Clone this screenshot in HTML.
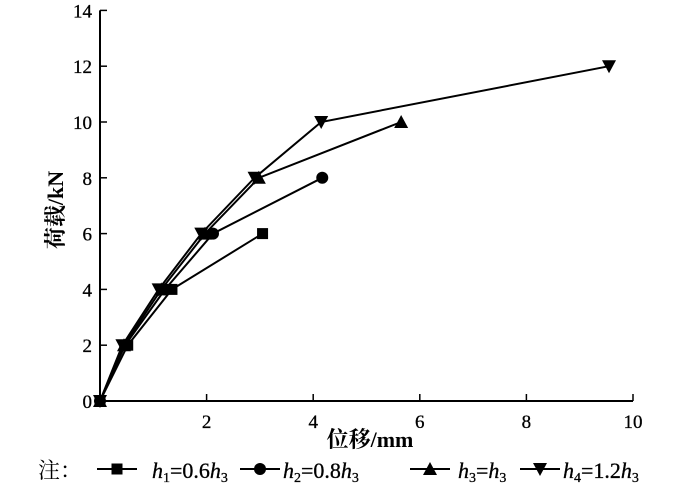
<!DOCTYPE html>
<html><head><meta charset="utf-8"><style>
body{margin:0;background:#fff;}
svg text{font-family:"Liberation Serif","Noto Serif CJK SC",serif;fill:#000;}
</style></head><body>
<svg id="chart" width="700" height="485" xmlns="http://www.w3.org/2000/svg"></svg>
<script>
const xTicks=[2,4,6,8,10];
const yTicks=[0,2,4,6,8,10,12,14];
const s1x=[0,0.52,1.35,3.05], s1y=[0,2,4,6];
const s2x=[0,0.47,1.22,2.12,4.17], s2y=[0,2,4,6,8];
const s3x=[0,0.45,1.15,1.97,2.98,5.65], s3y=[0,2,4,6,8,10];
const s4x=[0,0.42,1.1,1.9,2.9,4.15,9.55], s4y=[0,2,4,6,8,10,12];
const NS="http://www.w3.org/2000/svg";
const svg=document.getElementById('chart');
const X=v=>100+v*53.3, Y=v=>401-v*27.9;
function mk(t,a,txt){const e=document.createElementNS(NS,t);for(const k in a)e.setAttribute(k,a[k]);if(txt!=null)e.textContent=txt;svg.appendChild(e);return e;}
let e;
e=mk('line',{x1:100,y1:401,x2:X(10),y2:401,stroke:'#000','stroke-width':2});


e=mk('line',{x1:100,y1:401,x2:100,y2:Y(14),stroke:'#000','stroke-width':2});


xTicks.forEach(t=>{
 e=mk('line',{x1:X(t),y1:401,x2:X(t),y2:394,stroke:'#000','stroke-width':1.5});
 
 
 e=mk('text',{x:X(t),y:428,'text-anchor':'middle','font-size':19,'stroke':'#000','stroke-width':0.3},t);
 
 
});
yTicks.forEach(t=>{
 if(t>0){e=mk('line',{x1:100,y1:Y(t),x2:107,y2:Y(t),stroke:'#000','stroke-width':1.5});
 
 }
 e=mk('text',{x:92,y:Y(t)+7,'text-anchor':'end','font-size':19,'stroke':'#000','stroke-width':0.3},t);
 
 
});
e=mk('text',{x:370,y:447,'text-anchor':'middle','font-size':22,'font-weight':'bold'},'位移/mm');


e=mk('text',{x:0,y:0,'text-anchor':'middle','font-size':22,'font-weight':'bold',transform:'translate(63,210) rotate(-90)'},'荷载/kN');


function marker(kind,x,y){
 let m;
 if(kind==='sq')m=mk('rect',{x:x-5.5,y:y-5.5,width:11,height:11,fill:'#000'});
 else if(kind==='ci')m=mk('circle',{cx:x,cy:y,r:6,fill:'#000'});
 else if(kind==='up')m=mk('polygon',{points:`${x-7},${y+6} ${x+7},${y+6} ${x},${y-7}`,fill:'#000'});
 else m=mk('polygon',{points:`${x-7},${y-6} ${x+7},${y-6} ${x},${y+7}`,fill:'#000'});
 return m;
}
const series=[[s1x,s1y,'sq','series-h1'],[s2x,s2y,'ci','series-h2'],[s3x,s3y,'up','series-h3'],[s4x,s4y,'dn','series-h4']];
series.forEach(([xs,ys,k,n])=>{
 e=mk('polyline',{points:xs.map((v,i)=>X(v)+','+Y(ys[i])).join(' '),fill:'none',stroke:'#000','stroke-width':2});
 
 
 xs.forEach((v,i)=>{e=marker(k,X(v),Y(ys[i]));
 
 });
});
e=mk('text',{x:38,y:478,'font-size':22},'注：');


const leg=[[97,40,152,'h','1','=0.6','h','3'],[240,40,283,'h','2','=0.8','h','3'],[410,40,458,'h','3','=','h','3'],[520,40,563,'h','4','=1.2','h','3']];
leg.forEach(([x0,w,tx,a,b,c,d,f],i)=>{
 const k=['sq','ci','up','dn'][i];
 e=mk('line',{x1:x0,y1:469,x2:x0+w,y2:469,stroke:'#000','stroke-width':2});
 
 
 e=marker(k,x0+w/2,469);
 
 
 e=mk('text',{x:tx,y:478,'font-size':22,'stroke':'#000','stroke-width':0.3});
 e.innerHTML=`<tspan font-style="italic">${a}</tspan><tspan font-size="14" dy="4">${b}</tspan><tspan dy="-4">${c}</tspan><tspan font-style="italic">${d}</tspan><tspan font-size="14" dy="4">${f}</tspan>`;
 
 
});
</script>
</body></html>
